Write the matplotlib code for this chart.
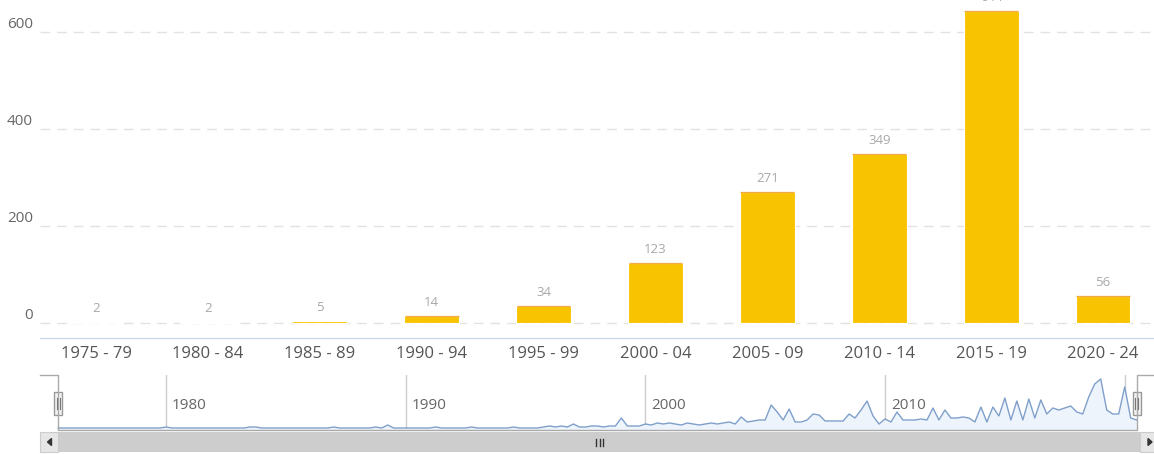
import numpy as np
import matplotlib.pyplot as plt
from matplotlib.patches import Rectangle, Polygon

plt.rcParams['font.family'] = ['Open Sans', 'DejaVu Sans']

periods = ["1975 - 79", "1980 - 84", "1985 - 89", "1990 - 94", "1995 - 99",
           "2000 - 04", "2005 - 09", "2010 - 14", "2015 - 19", "2020 - 24"]
counts = [2, 2, 5, 14, 34, 123, 271, 349, 644, 56]

# navigator series: quarterly samples, starting mid 1975
nav_start = 1975.5
nav_counts = [
    0, 0,                      # 1975
    0, 0, 0, 0,                # 1976
    0, 0, 0, 0,                # 1977
    0, 0, 0, 0,                # 1978
    0, 0, 0, 0,                # 1979
    0.5, 0, 0, 0,              # 1980
    0, 0, 0, 0,                # 1981
    0, 0, 0, 0,                # 1982
    0, 0, 0.5, 0.5,            # 1983
    0, 0, 0, 0,                # 1984
    0, 0, 0, 0,                # 1985
    0, 0, 0, 0,                # 1986
    0.5, 0, 0, 0,              # 1987
    0, 0, 0, 0.5,              # 1988
    0, 1.5, 0, 0,              # 1989
    0, 0, 0, 0,                # 1990
    0, 0.5, 0, 0,              # 1991
    0, 0, 0, 0.5,              # 1992
    0, 0, 0, 0,                # 1993
    0, 0, 0.5, 0,              # 1994
    0, 0, 0, 0.5,              # 1995
    1, 0.5, 1, 0.5,            # 1996
    2, 0.5, 0.5, 1,            # 1997
    1, 0.5, 1, 1,              # 1998
    5, 1, 1, 1,                # 1999
    2, 1.5, 2.5, 2,            # 2000
    2.5, 2, 1.5, 2.5,          # 2001
    2, 1.5, 2, 2.5,            # 2002
    2, 2.5, 3, 2,              # 2003
    5.5, 3, 3.5, 4,            # 2004
    4, 11.5, 8, 4,             # 2005
    9.5, 3, 3, 4,              # 2006
    7, 6.5, 3.5, 3.5,          # 2007
    3.5, 3.5, 7, 5,            # 2008
    9, 13.5, 6, 2,             # 2009
    4.5, 3, 8, 4,              # 2010
    4, 4, 4.5, 4,              # 2011
    10, 4, 9, 5,               # 2012
    5, 5.5, 5, 3,              # 2013
    10.5, 3, 10.5, 6,          # 2014
    15, 4, 13.5, 4,            # 2015
    14.5, 5, 14, 7,            # 2016
    10, 9, 10, 11,             # 2017
    8, 7, 15.5, 22,            # 2018
    24.5, 9, 7, 7,             # 2019
    20.5, 5, 4,                # 2020
]
nav_years = nav_start + 0.25 * np.arange(len(nav_counts))
decades = [1980, 1990, 2000, 2010]

W, H = 1154, 454
fig = plt.figure(figsize=(W / 100, H / 100), dpi=100)

# main column chart (plot area runs a little past the right edge)
ax = fig.add_axes([40 / W, (H - 338) / H, 1119 / W, 338 / H])
x = np.arange(len(periods))
bw = 0.49
ax.bar(x, counts, width=bw, color='#f8c300', edgecolor='white', lw=0.8,
       zorder=2)
tall = [i for i, v in enumerate(counts) if v > 10]
ax.hlines([counts[i] for i in tall], [i - bw / 2 + 0.005 for i in tall],
          [i + bw / 2 - 0.005 for i in tall], color='#f2aa48', lw=0.9,
          zorder=3)
for i, v in enumerate(counts):
    ax.annotate(str(v), (i, v), xytext=(0, 7), textcoords='offset pixels',
                ha='center', va='bottom', color='#a8a8a8', fontsize=9.5,
                annotation_clip=False)
ax.set_xlim(-0.5, len(periods) - 0.5)
ax.set_ylim(-31, 666)
ax.set_xticks(x, periods)
ax.set_yticks([0, 200, 400, 600], ['0', '200', '400', '600'], va='bottom')
ax.tick_params(axis='x', length=0, pad=6, labelsize=12, colors='#555555')
ax.tick_params(axis='y', length=0, pad=5, labelsize=11, colors='#666666')
ax.yaxis.grid(True, linestyle=(0, (7, 5)), color='#e2e2e2', lw=1)
ax.set_axisbelow(True)
for s in ['top', 'right', 'left']:
    ax.spines[s].set_visible(False)
ax.spines['bottom'].set_color('#c4d3e6')

# navigator
x0 = 1980 - 126 / 23.97
x1 = 2010 + 269 / 23.97
nav = fig.add_axes([40 / W, (H - 430) / H, (W - 40) / W, 55 / H])
nav.set_xlim(x0, x1)
nav.set_ylim(-1, 26.5)
nav.axis('off')
nav.fill_between(nav_years, nav_counts, -1, color='#eef4fb', lw=0)
nav.plot(nav_years, nav_counts, color='#7f9fcb', lw=1)
for d in decades + [2020]:
    nav.axvline(d, color='#cccccc', lw=1, zorder=0)
for d in decades:
    nav.annotate(str(d), (d, 0.45), xycoords=nav.get_xaxis_transform(),
                 xytext=(6, 0), textcoords='offset pixels', ha='left',
                 va='center', color='#666666', fontsize=11)

# overlay in pixel space for outline, handles and scrollbar
deco = fig.add_axes([0, 0, 1, 1])
deco.set_xlim(0, W)
deco.set_ylim(H, 0)
deco.axis('off')


def px(year):
    return 40 + (year - x0) * (W - 40) / (x1 - x0)


hl, hr = px(nav_years[0]), px(nav_years[-1])
deco.plot([40, hl, hl, hr, hr, W], [375, 375, 430, 430, 375, 375],
          color='#aaaaaa', lw=1)
for hx in (hl, hr):
    deco.add_patch(Rectangle((hx - 4, 392), 8, 23, facecolor='#f2f2f2',
                             edgecolor='#999999', lw=1))
    deco.plot([hx - 1.5, hx - 1.5], [398, 409], color='#777777', lw=0.8)
    deco.plot([hx + 1.5, hx + 1.5], [398, 409], color='#777777', lw=0.8)

# scrollbar
deco.add_patch(Rectangle((40, 432), W - 40, 20, facecolor='#eeeeee', lw=0))
deco.add_patch(Rectangle((58, 432), 1140 - 58, 20, facecolor='#cdcdcd', lw=0))
deco.add_patch(Rectangle((40, 432), 18, 20, facecolor='#e6e6e6',
                         edgecolor='#cccccc', lw=0.8))
deco.add_patch(Rectangle((1140, 432), 18, 20, facecolor='#e6e6e6',
                         edgecolor='#cccccc', lw=0.8))
deco.add_patch(Polygon([[47.5, 442], [51.5, 438.5], [51.5, 445.5]],
                       closed=True, color='#333333'))
deco.add_patch(Polygon([[1152, 442], [1148, 438.5], [1148, 445.5]],
                       closed=True, color='#333333'))
for gx in (596, 599.5, 603):
    deco.plot([gx, gx], [438.5, 445.5], color='#333333', lw=1)

fig.savefig('out.png', dpi=100)
